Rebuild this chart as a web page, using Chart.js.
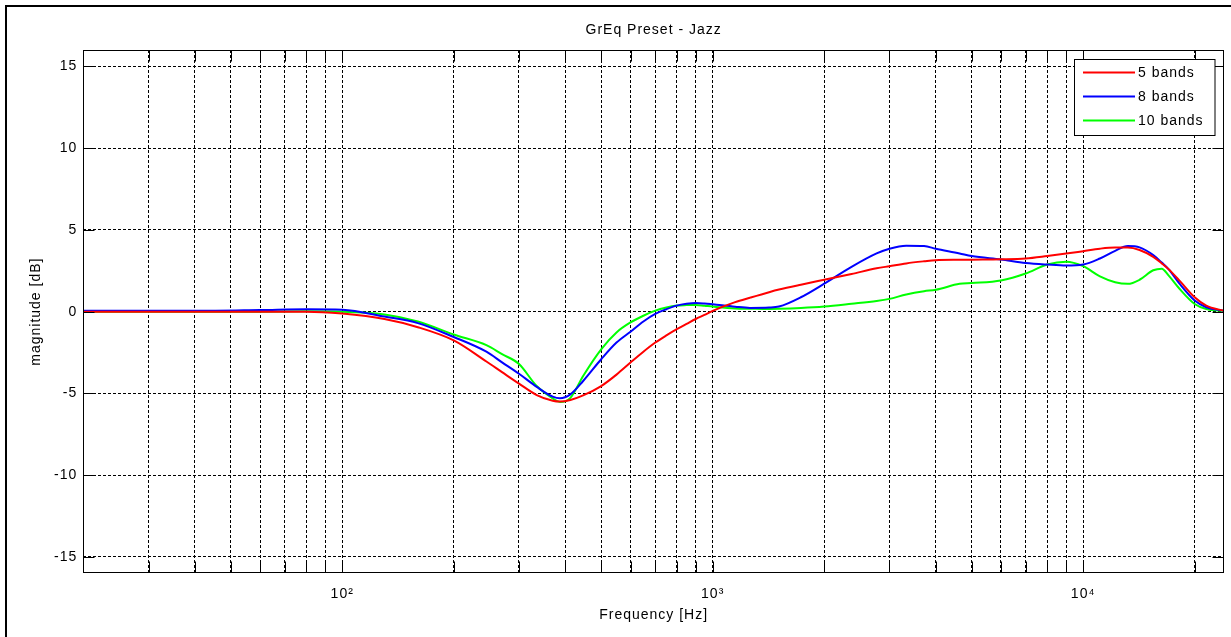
<!DOCTYPE html>
<html><head><meta charset="utf-8">
<script src="https://cdn.jsdelivr.net/npm/chart.js@4.4.0/dist/chart.umd.min.js"></script>
<style>
html,body{margin:0;padding:0;background:#fff;}
#wrap{position:relative;width:1231px;height:637px;}
</style></head><body>
<div id="wrap"><canvas id="c" width="1231" height="637"></canvas></div>
<script>
const chartTitle = 'GrEq Preset - Jazz';
const xTitle = 'Frequency [Hz]';
const yTitle = 'magnitude [dB]';
const freqHz = [20,40,60,80,100,130,160,200,245,270,300,335,370,387,413,447,500,550,600,650,700,750,800,850,900,950,1000,1150,1260,1420,1510,1730,2000,2370,2770,3000,3330,3720,4000,4640,5000,6000,7000,8000,9000,10000,11100,12200,13200,14200,15460,16300,17000,18200,20000,21500,24000];
const bands5 = [0,0,0,0,-0.12,-0.45,-0.95,-1.76,-3.05,-3.7,-4.4,-5.1,-5.45,-5.5,-5.4,-5.12,-4.55,-3.85,-3.11,-2.45,-1.89,-1.45,-1.07,-0.75,-0.45,-0.2,0.05,0.58,0.85,1.19,1.35,1.65,1.95,2.3,2.65,2.78,2.95,3.08,3.15,3.17,3.18,3.2,3.25,3.4,3.55,3.7,3.85,3.92,3.92,3.77,3.35,2.95,2.6,1.9,0.88,0.37,0.05];
const bands8 = [0.05,0.05,0.1,0.15,0.12,-0.3,-0.7,-1.55,-2.45,-3.1,-3.8,-4.6,-5.2,-5.3,-5.06,-4.24,-2.91,-1.89,-1.23,-0.6,-0.14,0.15,0.37,0.48,0.53,0.5,0.45,0.3,0.23,0.25,0.31,0.88,1.71,2.74,3.56,3.85,4.03,4.01,3.85,3.56,3.4,3.19,2.98,2.88,2.82,2.88,3.25,3.72,4.01,3.93,3.46,3.0,2.6,1.71,0.68,0.27,0.05];
const bands10 = [0,0,0,0.02,0,-0.17,-0.6,-1.4,-2.05,-2.6,-3.2,-4.55,-5.3,-5.53,-5.27,-3.93,-2.3,-1.27,-0.66,-0.25,0.06,0.25,0.37,0.4,0.41,0.36,0.31,0.2,0.18,0.16,0.17,0.22,0.31,0.48,0.65,0.78,1.05,1.25,1.34,1.7,1.75,1.91,2.33,2.88,3.05,2.78,2.16,1.8,1.7,1.95,2.53,2.63,2.22,1.4,0.47,0.16,0.05];
const seriesLabels = ['5 bands','8 bands','10 bands'];
const seriesColors = ['#ff0000','#0000ff','#00ff00'];
const xTicks = [20,30,40,50,60,70,80,90,100,200,300,400,500,600,700,800,900,1000,2000,3000,4000,5000,6000,7000,8000,9000,10000,20000];
const xTickLabels = {100:'10\u00b2',1000:'10\u00b3',10000:'10\u2074'};
const yTicks = [-15,-10,-5,0,5,10,15];
const xRange = [20,24000];
const yRange = [-16,16];

const FONT = 'Liberation Sans, Arial, Helvetica, sans-serif';
const series = [bands5, bands8, bands10];

const framePlugin = {
  id:'frame',
  beforeDraw(chart){
    const ctx = chart.ctx;
    ctx.save();
    ctx.fillStyle='#fff'; ctx.fillRect(0,0,chart.width,chart.height);
    ctx.fillStyle='#000';
    ctx.fillRect(5,5,2,chart.height);
    ctx.fillRect(5,5,chart.width,2);
    ctx.restore();
    ctx.letterSpacing='1px';
    const a = chart.chartArea;
    ctx.save();
    ctx.font = '14px ' + FONT;
    ctx.fillStyle='#000';
    ctx.textAlign='center'; ctx.textBaseline='middle';
    ctx.fillText(chartTitle, (a.left+a.right)/2, 30);
    ctx.restore();
  },
  afterDatasetsDraw(chart){
    const ctx = chart.ctx, a = chart.chartArea;
    const xs = chart.scales.x, ys = chart.scales.y;
    const L=Math.round(a.left)+0.5, R=Math.round(a.right)-0.5, T=Math.round(a.top)+0.5, B=Math.round(a.bottom)-0.5;
    ctx.save();
    ctx.setLineDash([]);
    ctx.strokeStyle='#000'; ctx.lineWidth=1;
    ctx.strokeRect(L,T,R-L,B-T);
    const tl = 11;
    ctx.beginPath();
    xTicks.forEach(v=>{
      const px = Math.round(xs.getPixelForValue(v))+0.5;
      ctx.moveTo(px,B); ctx.lineTo(px,B-tl);
      ctx.moveTo(px,T); ctx.lineTo(px,T+tl);
    });
    yTicks.forEach(v=>{
      const py = Math.round(ys.getPixelForValue(v))+0.5;
      ctx.moveTo(L,py); ctx.lineTo(L+tl,py);
      ctx.moveTo(R,py); ctx.lineTo(R-tl,py);
    });
    ctx.stroke();
    ctx.restore();
  },
  afterDraw(chart){
    const ctx = chart.ctx;
    const bx=1074.5, by=59.5, bw=140.5, bh=76;
    ctx.save();
    ctx.setLineDash([]);
    ctx.fillStyle='#fff'; ctx.fillRect(bx,by,bw,bh);
    ctx.strokeStyle='#000'; ctx.lineWidth=1; ctx.strokeRect(bx,by,bw,bh);
    const rows=[72.5,96.5,120.5];
    chart.data.datasets.forEach((ds,i)=>{
      ctx.strokeStyle=ds.borderColor; ctx.lineWidth=2;
      ctx.beginPath(); ctx.moveTo(1083,rows[i]); ctx.lineTo(1135,rows[i]); ctx.stroke();
      ctx.fillStyle='#000'; ctx.font='14px '+FONT; ctx.textAlign='left'; ctx.textBaseline='middle';
      ctx.fillText(ds.label,1138,rows[i]+1);
    });
    ctx.restore();
  }
};

new Chart(document.getElementById('c'), {
  type:'line',
  data:{
    datasets: series.map((s,i)=>({
      label: seriesLabels[i],
      data: freqHz.map((f,j)=>({x:f,y:s[j]})),
      borderColor: seriesColors[i],
      backgroundColor: seriesColors[i],
      borderWidth: 2,
      pointRadius: 0,
      fill:false,
      cubicInterpolationMode:'monotone'
    }))
  },
  options:{
    responsive:false,
    animation:false,
    layout:{padding:{top:50,right:7,left:0,bottom:0}},
    plugins:{legend:{display:false}, title:{display:false}, tooltip:{enabled:false}},
    scales:{
      x:{
        type:'logarithmic', min:xRange[0], max:xRange[1],
        afterBuildTicks(scale){ scale.ticks = xTicks.map(v=>({value:v})); },
        afterFit(scale){ scale.height = 63.7; },
        grid:{color:'#000', lineWidth:1, drawTicks:false},
        border:{display:false, dash:[3,2]},
        ticks:{autoSkip:false, maxRotation:0, padding:12, color:'#000', font:{family:FONT,size:14},
          callback:(v)=> xTickLabels[v] || ''},
        title:{display:true, text:xTitle, color:'#000', font:{family:FONT,size:14}, padding:{top:0,bottom:13.6}}
      },
      y:{
        type:'linear', min:yRange[0], max:yRange[1],
        afterBuildTicks(scale){ scale.ticks = yTicks.map(v=>({value:v})); },
        afterFit(scale){ scale.width = 83.3; },
        grid:{color:'#000', lineWidth:1, drawTicks:false},
        border:{display:false, dash:[3,2]},
        ticks:{padding:6, color:'#000', font:{family:FONT,size:14}},
        title:{display:true, text:yTitle, color:'#000', font:{family:FONT,size:14}, padding:{top:27.6,bottom:0}}
      }
    }
  },
  plugins:[framePlugin]
});
</script>
</body></html>
